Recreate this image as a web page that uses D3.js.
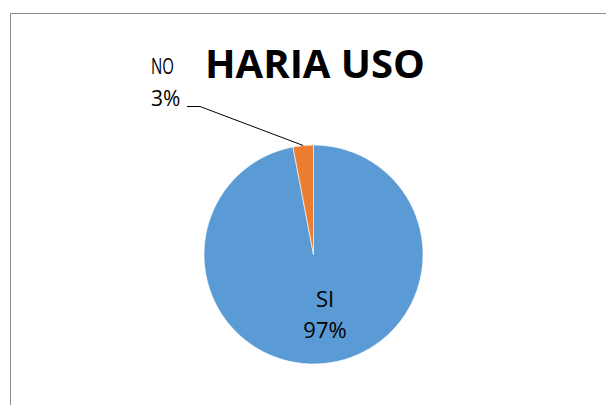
<!DOCTYPE html>
<html>
<head>
<meta charset="utf-8">
<script src="https://cdn.jsdelivr.net/npm/d3@7"></script>
<style>
  body { margin: 0; background: #fff; }
  text { font-family: "Open Sans", "Noto Sans", sans-serif; }
</style>
</head>
<body>
<div id="chart"></div>
<script>
// chart data
var categories = ["SI", "NO"];
var values = [97, 3];
var colors = ["#5b9bd5", "#ed7d31"];
var chartTitle = "HARIA USO";

var svgWidth = 606;
var svgHeight = 405;

var svg = d3.select("#chart").append("svg")
  .attr("width", svgWidth)
  .attr("height", svgHeight);

// chart border (top + left only visible)
svg.append("path")
  .attr("d", "M10.5,405 V13.5 H606")
  .attr("fill", "none")
  .attr("stroke", "#8c8c8c")
  .attr("stroke-width", 1);

var cx = 313.5, cy = 254.5, radius = 109.5;

var data = categories.map(function(c, i) { return { name: c, value: values[i], color: colors[i] }; });

var pie = d3.pie().sort(null).value(d => d.value);
var arc = d3.arc().innerRadius(0).outerRadius(radius);
var arcs = pie(data);

var pieGroup = svg.append("g").attr("transform", `translate(${cx}, ${cy})`);

pieGroup.selectAll("path").data(arcs).enter().append("path")
  .attr("d", arc)
  .attr("fill", d => d.data.color)
  .attr("stroke", "#fff")
  .attr("stroke-width", 0.6);

// title
svg.append("text")
  .attr("x", 315)
  .attr("y", 78)
  .attr("text-anchor", "middle")
  .attr("font-size", 40)
  .attr("font-weight", "bold")
  .attr("fill", "#000")
  .text(chartTitle);

var total = d3.sum(values);

// label for the big slice, inside
var si = arcs[0];
var siPct = Math.round(si.data.value / total * 100) + "%";
svg.append("text")
  .attr("x", 325).attr("y", 307)
  .attr("text-anchor", "middle")
  .attr("font-size", 22)
  .text(si.data.name);
svg.append("text")
  .attr("x", 325).attr("y", 338)
  .attr("text-anchor", "middle")
  .attr("font-size", 22)
  .text(siPct);

// label for the small slice, outside with a leader line
var no = arcs[1];
var noPct = Math.round(no.data.value / total * 100) + "%";
var midAngle = (no.startAngle + no.endAngle) / 2;
var edgeX = cx + Math.sin(midAngle) * radius;
var edgeY = cy - Math.cos(midAngle) * radius;

svg.append("polyline")
  .attr("points", `187,106.5 200,106.5 ${edgeX},${edgeY}`)
  .attr("fill", "none")
  .attr("stroke", "#000")
  .attr("stroke-width", 1);

svg.append("text")
  .attr("x", 151).attr("y", 74)
  .attr("font-size", 21)
  .attr("textLength", 23)
  .attr("lengthAdjust", "spacingAndGlyphs")
  .text(no.data.name);
svg.append("text")
  .attr("x", 151).attr("y", 106)
  .attr("font-size", 21)
  .text(noPct);
</script>
</body>
</html>
